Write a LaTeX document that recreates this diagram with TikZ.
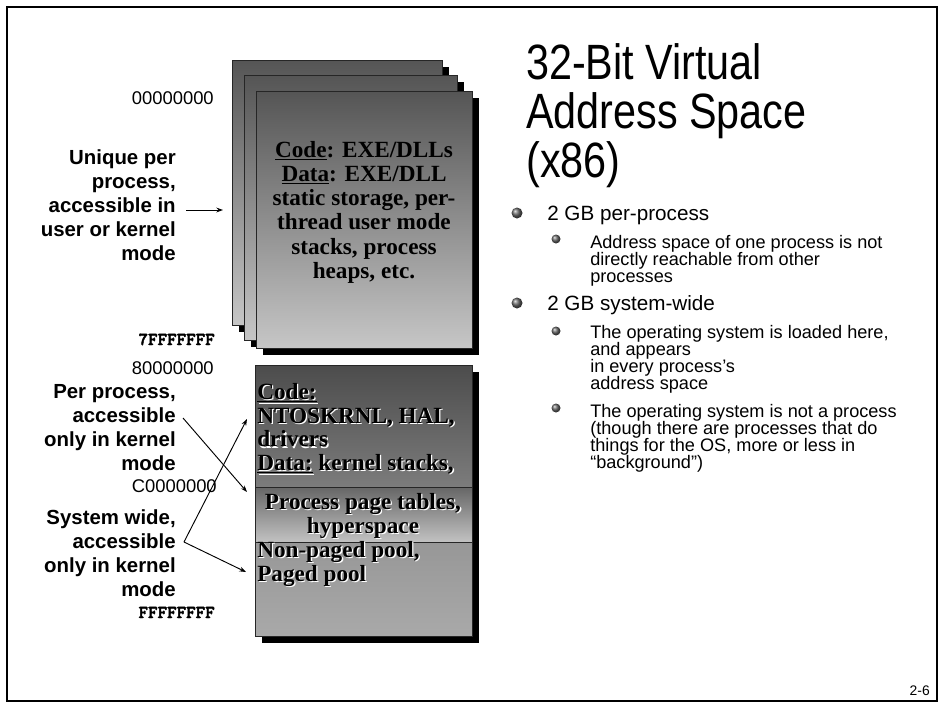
\documentclass[tikz,border=0pt]{standalone}
\usepackage{fontspec}
\setmainfont{Liberation Serif}
\setsansfont{Liberation Sans}
\newfontfamily\hexfont[FakeBold=2.5]{lmmonolt10-bold.otf}
\usetikzlibrary{arrows.meta,fit}
\lineskiplimit=-20pt

\definecolor{pagetop}{HTML}{555555}
\definecolor{pagebot}{HTML}{C6C6C6}
\definecolor{kcodetop}{HTML}{4C4C4C}
\definecolor{kcodebot}{HTML}{7C7C7C}
\definecolor{kpttop}{HTML}{666666}
\definecolor{kptbot}{HTML}{C2C2C2}
\definecolor{kpooltop}{HTML}{979797}
\definecolor{kpoolbot}{HTML}{A9A9A9}

\begin{document}
\begin{tikzpicture}[x=0.75pt,y=-0.75pt,
    page/.style={draw=black!85, line width=0.75pt, top color=pagetop, bottom color=pagebot, inner sep=0pt},
    kbox/.style={draw=black!85, line width=0.75pt, inner sep=0pt},
    pgtext/.style={font=\rmfamily\bfseries\fontsize{17.4}{18.15}\selectfont, align=center, inner sep=0pt},
    ktext/.style={font=\rmfamily\bfseries\fontsize{17.4}{17.8}\selectfont, inner sep=0pt},
    lbl/.style={font=\sffamily\bfseries\fontsize{15.3}{18}\selectfont, align=right, inner sep=0pt, anchor=north east},
    addr/.style={font=\sffamily\fontsize{13.8}{16}\selectfont, inner sep=0pt, anchor=base east},
    addrm/.style={font=\hexfont\fontsize{13.6}{15}\selectfont, inner sep=0pt, anchor=base east},
    blt1/.style={font=\sffamily\fontsize{15.5}{18}\selectfont, anchor=base west, inner sep=0pt},
    blt2/.style={font=\sffamily\fontsize{13.6}{12.75}\selectfont, anchor=north west, align=left, inner sep=0pt},
    ptr/.style={-{Stealth[length=5pt,width=3.6pt]}, line width=0.7pt}]

  \useasboundingbox (0,0) rectangle (940,704);
  \draw[line width=2pt] (7,7) rectangle (937,701);

  % user space: one page per process
  \fill[black] (239,67) rectangle (449,332);
  \node[page, fit={(232,60) (442,325)}] (pg1) {};
  \fill[black] (251,82) rectangle (464,347);
  \node[page, fit={(244,75) (457,340)}] (pg2) {};
  \fill[black] (263,98) rectangle (479,355);
  \node[page, fit={(256,91) (472,348)}] (pg3) {};
  \node[pgtext, anchor=north] (usrtxt) at (364,141)
    {\underline{Code}: EXE/DLLs\\ \underline{Data}: EXE/DLL\\ static storage, per-\\
     thread user mode\\ stacks, process\\ heaps, etc.};

  % system space
  \fill[black] (262,372) rectangle (479,643);
  \node[kbox, top color=kcodetop, bottom color=kcodebot, fit={(255,365) (472,487)}] (kcode) {};
  \node[kbox, top color=kpttop, bottom color=kptbot, fit={(255,487) (472,542)}] (kpt) {};
  \node[kbox, top color=kpooltop, bottom color=kpoolbot, fit={(255,542) (472,636)}] (kpool) {};
  \foreach \c/\d in {white/1.3, black/0} {
    \node[ktext, \c, anchor=north west, align=left] (kcodetxt) at (257+\d,383+\d)
      {\underline{Code:}\\ NTOSKRNL, HAL,\\ drivers\\ \underline{Data:} kernel stacks,};
    \node[ktext, \c, anchor=north, align=center] (kpttxt) at (363+\d,493+\d)
      {Process page tables,\\ hyperspace};
    \node[ktext, \c, anchor=north west, align=left] (kpooltxt) at (257+\d,541+\d)
      {Non-paged pool,\\ Paged pool};
  }

  % addresses
  \node[addr] (a0) at (214,104) {00000000};
  \node[addrm] (a7) at (215,345) {7FFFFFFF};
  \node[addr] (a8) at (214,374) {80000000};
  \node[addr] (ac) at (217,492) {C0000000};
  \node[addrm] (af) at (215,618) {FFFFFFFF};

  % labels
  \node[lbl] (uniq) at (176,149) {Unique per\\ process,\\ accessible in\\ user or kernel\\ mode};
  \node[lbl] (pproc) at (176,384) {Per process,\\ accessible\\ only in kernel\\ mode};
  \node[lbl] (sysw) at (176,509) {System wide,\\ accessible\\ only in kernel\\ mode};

  \coordinate (uarr) at (186,210);
  \coordinate (utip) at (223,210);
  \coordinate (pparr) at (183,418);
  \coordinate (swarr) at (184,542);
  \coordinate (tcode) at (247,419);
  \coordinate (tpt) at (247,492);
  \coordinate (tpool) at (246,572);
  \draw[ptr] (uarr) -- (utip);
  \draw[ptr] (pparr) -- (tpt);
  \draw[ptr] (swarr) -- (tcode);
  \draw[ptr] (swarr) -- (tpool);

  % title and bullets
  \begin{scope}[shift={(526,43)}, yscale=1.2]
    \node[anchor=north west, align=left, inner sep=0pt, transform shape,
      font=\sffamily\fontsize{31}{30.6}\selectfont] (title) at (0,0)
      {32-Bit Virtual\\ Address Space\\ (x86)};
  \end{scope}
  \foreach \y in {213,303} \shade[ball color=black!60] (517,\y) circle (5.5);
  \foreach \y in {239,331,408} \shade[ball color=black!60] (556,\y) circle (4.5);
  \node[blt1] (b1) at (547,220) {2 GB per-process};
  \node[blt2] (b1a) at (590,235) {Address space of one process is not\\ directly reachable from other\\ processes};
  \node[blt1] (b2) at (547,310) {2 GB system-wide};
  \node[blt2] (b2a) at (590,325) {The operating system is loaded here,\\ and appears\\ in every process’s\\ address space};
  \node[blt2] (b2b) at (590,404) {The operating system is not a process\\ (though there are processes that do\\ things for the OS, more or less in\\ “background”)};

  \node[font=\sffamily\fontsize{10.4}{12}\selectfont, anchor=base east, inner sep=0pt] (pgno) at (930,695) {2-6};
\end{tikzpicture}
\end{document}
